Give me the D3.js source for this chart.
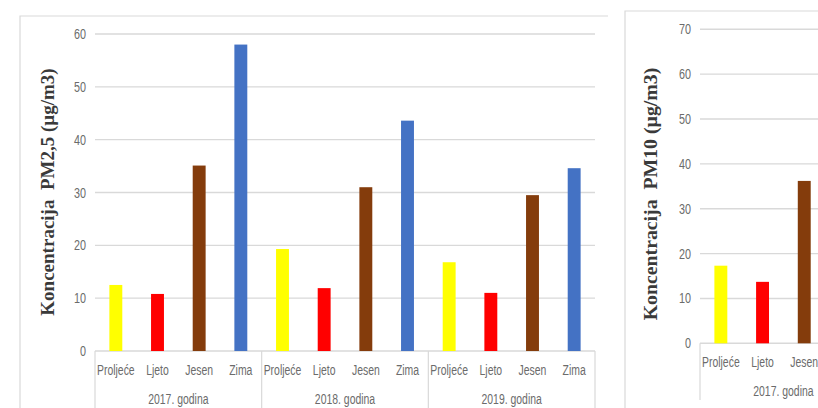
<!DOCTYPE html>
<html>
<head>
<meta charset="utf-8">
<script src="https://cdn.jsdelivr.net/npm/d3@7"></script>
<style>
  html, body { margin: 0; padding: 0; background: #fff; }
  svg { display: block; }
  .tick-label, .cat-label, .grp-label { font-family: "Liberation Sans", Arial, sans-serif; fill: #6b6b6b; }
  .ytitle { font-family: "Liberation Serif", "Times New Roman", serif; font-weight: bold; fill: #3a3a3a; }
</style>
</head>
<body>
<svg id="chart" width="818" height="408"></svg>
<script>
// Seasons and years shared by both panels
const seasons = ["Proljeće", "Ljeto", "Jesen", "Zima"];
const years = ["2017. godina", "2018. godina", "2019. godina"];
const seasonColors = ["#ffff00", "#ff0000", "#843c0c", "#4472c4"];

// PM2.5 seasonal means (µg/m3), one array per year
const pm25_2017 = [12.5, 10.8, 35.1, 58.0];
const pm25_2018 = [19.3, 11.9, 31.0, 43.6];
const pm25_2019 = [16.8, 11.0, 29.5, 34.6];
const pm25Ticks = [0, 10, 20, 30, 40, 50, 60];

// PM10 seasonal means (µg/m3) — only the first columns of this panel are shown
const pm10_2017 = [17.3, 13.7, 36.2];
const pm10Ticks = [0, 10, 20, 30, 40, 50, 60, 70];

const svg = d3.select("#chart");
const grid = "#d9d9d9";
const squeeze = 0.72; // condensed look for the axis lettering

function buildRows(yearSeries) {
  const rows = [];
  yearSeries.forEach((vals, yi) => {
    seasons.forEach((s, si) => {
      rows.push({ key: years[yi] + "|" + s, year: years[yi], season: s, si, value: vals[si] });
    });
  });
  return rows;
}

function narrowText(sel, cls, size, anchor, xf, yf, tf) {
  return sel.join("text")
    .attr("class", cls)
    .attr("transform", d => `translate(${xf(d)},${yf(d)}) scale(${squeeze},1)`)
    .attr("text-anchor", anchor)
    .attr("font-size", size)
    .text(tf);
}

function drawPanel(opt) {
  const g = svg.append("g");
  const rows = buildRows(opt.series);
  const allKeys = [];
  years.forEach(y => seasons.forEach(s => allKeys.push(y + "|" + s)));

  const x = d3.scaleBand().domain(allKeys).range([opt.x0, opt.x1]).padding(0);
  const y = d3.scaleLinear().domain([0, opt.ymax]).range([opt.y0, opt.yTop]);
  const bw = x.bandwidth();
  const barW = bw * 0.31;

  // chart frame (top and left edges)
  g.append("path")
    .attr("d", `M${opt.frameX},${opt.frameBottom}V${opt.frameY}H${opt.frameRight}`)
    .attr("fill", "none").attr("stroke", grid).attr("stroke-width", 1.2);

  // horizontal gridlines
  g.selectAll("line.grid").data(opt.ticks).join("line")
    .attr("class", "grid")
    .attr("x1", opt.x0).attr("x2", opt.x1)
    .attr("y1", d => y(d)).attr("y2", d => y(d))
    .attr("stroke", grid).attr("stroke-width", 1.4);

  // tick labels
  narrowText(g.selectAll("text.tick-label").data(opt.ticks), "tick-label", 15, "end",
    () => opt.x0 - 9, d => y(d) + 5, d => d);

  // bars
  g.selectAll("rect.bar").data(rows.filter(d => d.value != null)).join("rect")
    .attr("class", "bar")
    .attr("x", d => x(d.key) + (bw - barW) / 2)
    .attr("width", barW)
    .attr("y", d => y(d.value))
    .attr("height", d => y(0) - y(d.value))
    .attr("fill", d => seasonColors[d.si]);

  // season labels
  narrowText(g.selectAll("text.cat-label").data(rows.filter(d => d.value != null)), "cat-label", 14.5, "middle",
    d => x(d.key) + bw / 2, () => opt.y0 + opt.catOffset, d => d.season);

  // year group labels and separators
  const groups = years.slice(0, opt.series.length).map(yr => {
    const first = x(yr + "|" + seasons[0]);
    const last = x(yr + "|" + seasons[3]) + bw;
    return { yr, first, last };
  });
  narrowText(g.selectAll("text.grp-label").data(groups), "grp-label", 14.5, "middle",
    d => (d.first + d.last) / 2, () => opt.y0 + opt.grpOffset, d => d.yr);

  const seps = [groups[0].first].concat(groups.map(d => d.last));
  g.selectAll("line.sep").data(seps).join("line")
    .attr("class", "sep")
    .attr("x1", d => d).attr("x2", d => d)
    .attr("y1", opt.y0).attr("y2", opt.sepBottom)
    .attr("stroke", grid).attr("stroke-width", 1.2);

  // rotated y title
  g.append("text").attr("class", "ytitle")
    .attr("transform", `translate(${opt.titleX},${opt.titleY}) rotate(-90)`)
    .attr("text-anchor", "middle").attr("dy", "0.35em")
    .attr("font-size", opt.titleSize)
    .attr("xml:space", "preserve")
    .text(opt.title);
}

// PM2.5 panel
drawPanel({
  series: [pm25_2017, pm25_2018, pm25_2019],
  x0: 95, x1: 595, y0: 351, yTop: 34, ymax: 60, ticks: pm25Ticks,
  frameX: 20, frameY: 16, frameRight: 608, frameBottom: 410,
  catOffset: 24, grpOffset: 53, sepBottom: 410,
  title: "Koncentracija  PM2,5 (µg/m3)", titleX: 47, titleY: 192, titleSize: 19
});

// PM10 panel (continues past the right edge)
drawPanel({
  series: [[...pm10_2017, null]],
  x0: 700, x1: 700 + 12 * 41.7, y0: 343.3, yTop: 29.3, ymax: 70, ticks: pm10Ticks,
  frameX: 625, frameY: 11, frameRight: 820, frameBottom: 410,
  catOffset: 24, grpOffset: 53, sepBottom: 400,
  title: "Koncentracija  PM10 (µg/m3)", titleX: 650, titleY: 194, titleSize: 19.8
});
</script>
</body>
</html>
